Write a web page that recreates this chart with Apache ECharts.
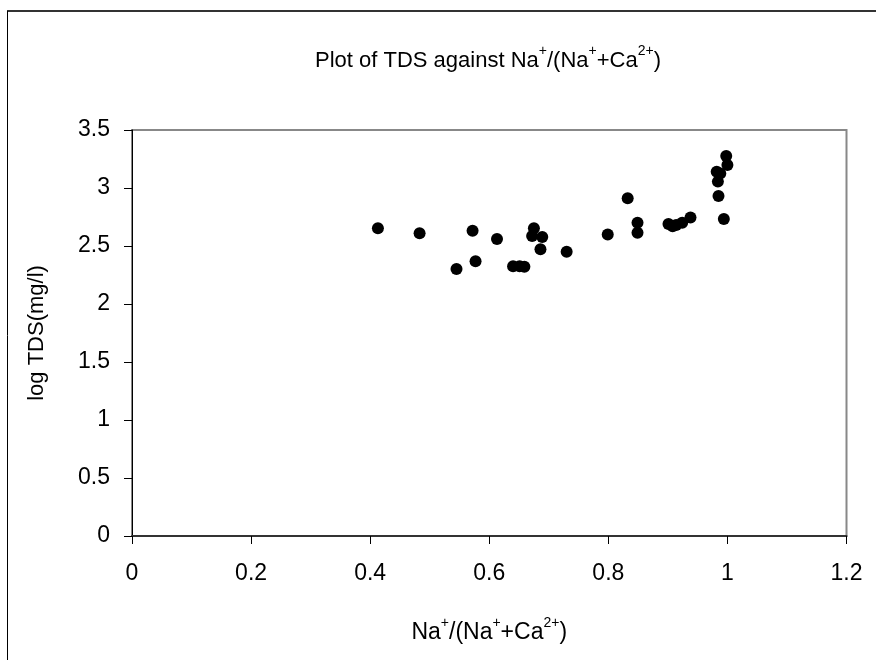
<!DOCTYPE html>
<html>
<head>
<meta charset="utf-8">
<script src="https://cdn.jsdelivr.net/npm/echarts@6/dist/echarts.min.js"></script>
<style>html,body{margin:0;padding:0;background:#fff}#c{width:876px;height:660px}</style>
</head>
<body>
<div id="c"></div>
<script>
// Na+/(Na+ + Ca2+) ratio
const naRatio = [0.413,0.483,0.572,0.545,0.577,0.613,0.640,0.651,0.659,0.675,0.672,0.689,0.686,0.730,0.799,0.8325,0.849,0.849,0.901,0.908,0.914,0.924,0.938,0.994,0.985,0.984,0.982,0.988,0.998,1.0];
// log TDS (mg/l)
const logTDS = [2.653,2.609,2.632,2.302,2.368,2.560,2.325,2.325,2.321,2.653,2.586,2.578,2.471,2.451,2.600,2.912,2.700,2.615,2.690,2.670,2.681,2.701,2.745,2.732,2.931,3.055,3.141,3.126,3.276,3.198];
const xTicks = {min:0, max:1.2, interval:0.2};
const yTicks = {min:0, max:3.5, interval:0.5};

const FONT = '"Liberation Sans", Arial, sans-serif';
const chart = echarts.init(document.getElementById('c'), null, {renderer:'canvas'});
const makeRich = (size, sup) => ({
  n: {fontSize: size, fontFamily: FONT, fontWeight: 'normal', color: '#000', lineHeight: 28, verticalAlign: 'bottom'},
  s: {fontSize: sup, fontFamily: FONT, fontWeight: 'normal', color: '#000', lineHeight: 28, verticalAlign: 'top'}
});
chart.setOption({
  animation: false,
  backgroundColor: '#fff',
  title: {
    text: '{n|Plot of TDS against Na}{s|+}{n|/(Na}{s|+}{n|+Ca}{s|2+}{n|)}',
    left: 483, top: 39, textAlign: 'center',
    textStyle: {fontWeight: 'normal', rich: makeRich(22, 14)}
  },
  graphic: [
    {type:'line', shape:{x1:7, y1:11, x2:876, y2:11}, style:{stroke:'#333', lineWidth:2}},
    {type:'line', shape:{x1:7.5, y1:11, x2:7.5, y2:660}, style:{stroke:'#000', lineWidth:1}}
  ],
  grid: {left:132, top:130, right:29.5, bottom:124, show:true, borderColor:'#888', borderWidth:2, backgroundColor:'#fff'},
  xAxis: {
    type:'value', min:xTicks.min, max:xTicks.max, interval:xTicks.interval,
    name: '{n|Na}{s|+}{n|/(Na}{s|+}{n|+Ca}{s|2+}{n|)}',
    nameLocation:'middle', nameGap:80,
    nameTextStyle:{rich: makeRich(23, 14)},
    axisLine:{show:true, onZero:false, lineStyle:{color:'#333', width:2}},
    axisTick:{show:true, length:8, lineStyle:{color:'#000', width:1}},
    axisLabel:{fontSize:23, fontFamily:FONT, color:'#000', margin:26, formatter: v => String(+v.toFixed(1))},
    splitLine:{show:false}
  },
  yAxis: {
    type:'value', min:yTicks.min, max:yTicks.max, interval:yTicks.interval,
    name:'log TDS(mg/l)', nameLocation:'middle', nameGap:84, nameRotate:90,
    nameTextStyle:{fontSize:22, fontFamily:FONT, color:'#000'},
    axisLine:{show:true, onZero:false, lineStyle:{color:'#000', width:1}},
    axisTick:{show:true, length:8, lineStyle:{color:'#000', width:1}},
    axisLabel:{fontSize:23, fontFamily:FONT, color:'#000', margin:22, formatter: v => String(+v.toFixed(1))},
    splitLine:{show:false}
  },
  series: [{
    type:'scatter',
    data: naRatio.map((x,i)=>[x, logTDS[i]]),
    symbol:'circle', symbolSize:12,
    itemStyle:{color:'#000', opacity:1}
  }]
});
</script>
</body>
</html>
